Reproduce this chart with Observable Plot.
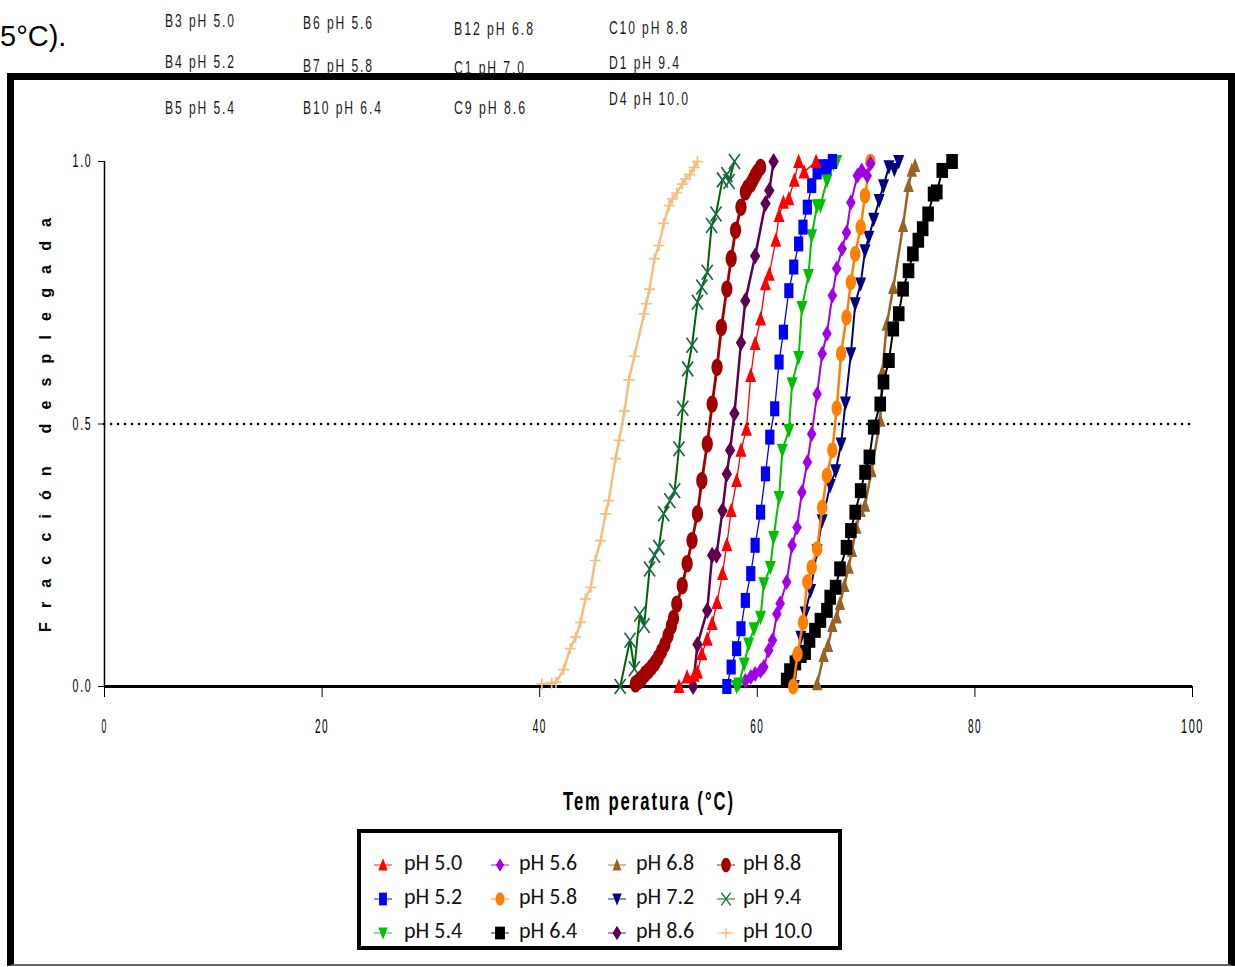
<!DOCTYPE html>
<html><head><meta charset="utf-8">
<script src="https://cdn.jsdelivr.net/npm/d3@7"></script>
<script src="https://cdn.jsdelivr.net/npm/@observablehq/plot@0.6"></script>
<style>
html,body{margin:0;padding:0;background:#fff;width:1235px;height:967px;overflow:hidden;}
body{position:relative;}
#chart{position:absolute;left:0;top:0;z-index:1;}
#over{position:absolute;left:0;top:0;z-index:2;}
#frame{position:absolute;left:7px;top:73px;width:1214px;height:884px;border-top:7px solid #000;border-left:7px solid #000;border-right:7px solid #000;border-bottom:2px solid #666;z-index:3;}
#legend{position:absolute;left:357px;top:829px;width:485px;height:121px;box-sizing:border-box;border:4px solid #000;background:#fff;z-index:4;}
.item{position:absolute;height:30px;display:flex;align-items:center;font-family:Carlito,Lato,"Liberation Sans",sans-serif;font-size:22px;color:#111;transform:translateY(-50%);}
</style></head>
<body>
<div id="chart"></div>
<svg id="over" width="1235" height="967"></svg>
<div id="frame"></div>
<div id="legend"></div>
<script>
// ---- data: [temperature °C, unfolded fraction] ----
const pH50 = [[52.8,0],[53.55,0.018],[54.2,0.021],[54.5,0.027],[54.9,0.062],[55.4,0.09],[55.85,0.12],[56.3,0.16],[56.8,0.215],[57.2,0.27],[57.6,0.335],[58.1,0.392],[58.5,0.45],[59.0,0.49],[59.4,0.592],[59.8,0.653],[60.3,0.7],[60.75,0.767],[61.1,0.785],[61.7,0.85],[62.0,0.897],[62.4,0.922],[62.9,0.929],[63.4,0.964],[63.8,1.0],[64.3,0.98],[65.4,1.0]];
const pH52 = [[57.2,0],[57.6,0.037],[58.1,0.072],[58.5,0.11],[58.9,0.164],[59.4,0.215],[59.8,0.269],[60.3,0.332],[60.75,0.405],[61.15,0.475],[61.6,0.529],[62.0,0.618],[62.4,0.675],[62.9,0.754],[63.35,0.799],[63.8,0.843],[64.2,0.875],[64.6,0.913],[65.0,0.954],[65.5,0.98],[65.95,0.99],[66.4,0.99],[66.9,1.0]];
const pH54 = [[58.1,0],[58.3,0.005],[58.8,0.043],[59.2,0.081],[59.7,0.11],[60.3,0.132],[60.6,0.196],[61.2,0.227],[61.5,0.284],[62.0,0.36],[62.3,0.45],[62.9,0.488],[63.2,0.577],[63.8,0.627],[64.1,0.722],[64.7,0.783],[65.0,0.859],[65.5,0.916],[65.8,0.916],[66.4,0.964],[67.0,0.996],[67.3,1.0]];
const pH56 = [[58.9,0.011],[59.4,0.018],[59.8,0.024],[60.3,0.03],[60.6,0.037],[61.05,0.069],[61.4,0.088],[61.8,0.138],[62.1,0.158],[62.7,0.199],[63.2,0.269],[63.65,0.303],[64.1,0.37],[64.6,0.427],[65.0,0.481],[65.5,0.557],[65.96,0.634],[66.4,0.672],[66.9,0.745],[67.3,0.796],[67.8,0.834],[68.2,0.865],[68.6,0.922],[69.2,0.973],[69.6,0.983],[70.1,0.973],[70.4,0.996]];
const pH58 = [[63.3,0],[63.7,0.062],[64.2,0.122],[64.6,0.199],[65.0,0.227],[65.5,0.262],[65.96,0.341],[66.4,0.402],[66.9,0.45],[67.3,0.53],[67.7,0.634],[68.2,0.703],[68.6,0.77],[69.0,0.824],[69.5,0.875],[69.9,0.935],[70.4,1.0]];
const pH64 = [[62.7,0.012],[63.0,0.03],[63.5,0.045],[64.0,0.059],[64.4,0.065],[64.8,0.088],[65.3,0.107],[65.8,0.126],[66.4,0.145],[66.7,0.17],[67.2,0.189],[67.6,0.224],[68.2,0.265],[68.6,0.297],[69.0,0.332],[69.5,0.373],[69.9,0.408],[70.3,0.437],[70.7,0.494],[71.3,0.538],[71.6,0.58],[72.1,0.621],[72.5,0.681],[73.0,0.71],[73.4,0.757],[73.9,0.792],[74.3,0.824],[74.8,0.85],[75.2,0.872],[75.7,0.9],[76.2,0.938],[76.5,0.942],[77.0,0.983],[77.9,1.0]];
const pH68 = [[65.5,0.005],[66.1,0.059],[66.5,0.078],[66.9,0.116],[67.3,0.132],[67.6,0.158],[68.0,0.192],[68.4,0.227],[68.7,0.259],[69.1,0.303],[69.5,0.335],[69.9,0.345],[70.5,0.411],[71.3,0.507],[71.5,0.6],[71.9,0.69],[72.5,0.76],[73.4,0.878],[73.9,0.954],[74.2,0.983],[74.5,0.992]];
const pH72 = [[63.4,0],[63.7,0.05],[64.0,0.094],[64.4,0.14],[64.9,0.183],[65.5,0.259],[65.96,0.316],[66.7,0.383],[67.2,0.411],[67.7,0.462],[68.1,0.54],[68.6,0.634],[69.0,0.729],[69.5,0.767],[69.9,0.83],[70.25,0.856],[70.7,0.89],[71.2,0.926],[71.6,0.954],[72.1,0.99],[72.6,0.985],[73.0,1.0]];
const pH86 = [[54.1,0],[54.5,0.08],[55.4,0.145],[55.85,0.25],[56.25,0.25],[56.8,0.335],[57.2,0.405],[57.5,0.45],[57.9,0.52],[58.5,0.655],[58.9,0.735],[59.8,0.82],[60.75,0.92],[61.1,0.945],[61.5,1.0]];
const pH88 = [[48.8,0.005],[49.1,0.01],[49.4,0.016],[49.7,0.024],[50.0,0.03],[50.3,0.037],[50.6,0.045],[50.9,0.055],[51.2,0.067],[51.5,0.08],[51.8,0.097],[52.1,0.115],[52.3,0.13],[52.6,0.157],[53.1,0.192],[53.55,0.234],[54.0,0.278],[54.5,0.329],[54.9,0.392],[55.4,0.462],[55.85,0.538],[56.3,0.608],[56.7,0.684],[57.2,0.757],[57.6,0.815],[58.0,0.869],[58.5,0.913],[58.9,0.942],[59.1,0.95],[59.4,0.957],[59.6,0.965],[59.8,0.973],[60.0,0.98],[60.3,0.989]];
const pH94 = [[47.4,0],[48.3,0.088],[48.7,0.034],[49.2,0.138],[49.6,0.116],[50.1,0.224],[50.55,0.25],[50.95,0.265],[51.4,0.329],[51.96,0.354],[52.4,0.373],[52.8,0.453],[53.15,0.53],[53.6,0.605],[54.0,0.65],[54.5,0.732],[54.9,0.761],[55.4,0.789],[55.8,0.878],[56.2,0.9],[56.8,0.965],[57.2,0.975],[57.4,0.962],[57.9,1.0]];
const pH100 = [[40.2,0.005],[41.1,0.006],[41.5,0.008],[42.2,0.032],[42.8,0.072],[43.3,0.094],[43.75,0.122],[44.2,0.167],[44.7,0.189],[45.1,0.24],[45.6,0.278],[46.05,0.329],[46.35,0.354],[46.97,0.434],[47.3,0.469],[47.8,0.525],[48.2,0.584],[48.7,0.629],[49.6,0.71],[49.8,0.729],[50.1,0.757],[50.55,0.815],[50.95,0.84],[51.4,0.882],[51.9,0.916],[52.2,0.929],[52.6,0.94],[53.1,0.957],[53.4,0.967],[53.8,0.975],[54.2,0.989],[54.5,1.0]];

const seriesLabels = ["pH 5.0","pH 5.2","pH 5.4","pH 5.6","pH 5.8","pH 6.4","pH 6.8","pH 7.2","pH 8.6","pH 8.8","pH 9.4","pH 10.0"];
const seriesData = [pH50,pH52,pH54,pH56,pH58,pH64,pH68,pH72,pH86,pH88,pH94,pH100];
const xTicks = [0,20,40,60,80,100];
const yTicks = [0,0.5,1];
const sampleLabels = [["B3 pH 5.0","B4 pH 5.2","B5 pH 5.4"],["B6 pH 5.6","B7 pH 5.8","B10 pH 6.4"],["B12 pH 6.8","C1 pH 7.0","C9 pH 8.6"],["C10 pH 8.8","D1 pH 9.4","D4 pH 10.0"]];
const xTitle = "Tem peratura (°C)";
const yTitle = "Fracción desplegada";
const fragment = "5°C).";

// ---- symbols ----
const tri = (w,h,down) => ({draw(c){const s=down?-1:1;c.moveTo(0,-h*s);c.lineTo(w,h*0.8*s);c.lineTo(-w,h*0.8*s);c.closePath();}});
const rect = (w,h) => ({draw(c){c.rect(-w,-h,2*w,2*h);}});
const diam = (w,h) => ({draw(c){c.moveTo(0,-h);c.lineTo(w,0);c.lineTo(0,h);c.lineTo(-w,0);c.closePath();}});
const ell = (rx,ry) => ({draw(c){const k=0.5523;c.moveTo(rx,0);c.bezierCurveTo(rx,ry*k,rx*k,ry,0,ry);c.bezierCurveTo(-rx*k,ry,-rx,ry*k,-rx,0);c.bezierCurveTo(-rx,-ry*k,-rx*k,-ry,0,-ry);c.bezierCurveTo(rx*k,-ry,rx,-ry*k,rx,0);c.closePath();}});
const xs = (w,h) => ({draw(c){c.moveTo(-w,-h);c.lineTo(w,h);c.moveTo(w,-h);c.lineTo(-w,h);}});
const pl = (w,h) => ({draw(c){c.moveTo(-w,0);c.lineTo(w,0);c.moveTo(0,-h);c.lineTo(0,h);}});

const styles = [
  {color:"#FF0000", lw:1.3, sym:tri(5.5,8,false), filled:true},
  {color:"#0000FF", lw:1.3, sym:rect(4.6,7.5), filled:true},
  {color:"#00C000", lw:2, sym:tri(5.5,8,true), filled:true},
  {color:"#A000E6", lw:2, sym:diam(4.8,8), filled:true},
  {color:"#FF8000", lw:2.5, sym:ell(5.2,7.8), filled:true},
  {color:"#000000", lw:2, sym:rect(5.8,7.5), filled:true},
  {color:"#996326", lw:2.5, sym:tri(5.2,8,false), filled:true},
  {color:"#000080", lw:2, sym:tri(5.5,8,true), filled:true},
  {color:"#5E0050", lw:2.5, sym:diam(5.2,8.5), filled:true},
  {color:"#A00000", lw:2.8, sym:ell(5.6,8.6), filled:true},
  {color:"#1B6B48", line:"#006400", lw:2, sym:xs(5.5,7.5), filled:false},
  {color:"#F4BE80", lw:2.5, sym:pl(5.5,5.5), filled:false}
];

const marks = [
  Plot.ruleY([0.5], {stroke:"#000", strokeWidth:2.5, strokeDasharray:"0.1,6.9", strokeLinecap:"round"}),
  Plot.ruleX([0], {stroke:"#000", strokeWidth:1.5}),
  Plot.ruleY([0], {stroke:"#000", strokeWidth:3})
];
const drawOrder = [11,10,9,8,7,6,5,4,3,2,1,0];
for (const i of drawOrder) {
  const st = styles[i], d = seriesData[i];
  marks.push(Plot.line(d, {x:p=>p[0], y:p=>p[1], stroke: st.line || st.color, strokeWidth: st.lw}));
  marks.push(Plot.dot(d, {x:p=>p[0], y:p=>p[1], r:5, symbol: st.sym,
    fill: st.filled ? st.color : "none", stroke: st.filled ? "none" : st.color, strokeWidth: st.filled ? 0 : 1.7}));
}

const plot = Plot.plot({
  width:1235, height:967,
  marginLeft:104, marginRight:43, marginTop:161, marginBottom:281,
  style:{background:"transparent", fontFamily:"'Liberation Sans', Arial, sans-serif", fontSize:"18px", color:"#000"},
  x:{domain:[0,100], ticks:xTicks, tickSize:11, tickPadding:21, label:null},
  y:{domain:[0,1], ticks:yTicks, tickFormat:d=>d.toFixed(1), tickSize:6, tickPadding:6, label:null},
  marks
});
document.getElementById("chart").appendChild(plot);

// condensed, letter-spaced tick labels
const xLen = {1:6, 2:14, 3:23};
plot.querySelectorAll("text").forEach(t => {
  const s = t.textContent.trim();
  if (/^\d+$/.test(s)) {
    t.style.fontSize = "21px"; t.setAttribute("letter-spacing", 3);
    t.setAttribute("textLength", xLen[s.length]); t.setAttribute("lengthAdjust","spacingAndGlyphs");
  } else if (/^\d\.\d$/.test(s)) {
    t.style.fontSize = "18px"; t.setAttribute("letter-spacing", 3);
    t.setAttribute("textLength", 20); t.setAttribute("lengthAdjust","spacingAndGlyphs");
  }
});

// ---- overlay texts ----
const over = d3.select("#over");
const colX = [165,303,454,609];
const base = [[27,68,114],[29,72,114],[35,74,114],[34,69,105]];
const lens = [[71,71,71],[71,71,80],[81,72,73],[80,72,81]];
sampleLabels.forEach((col,ci) => col.forEach((s,ri) => {
  over.append("text").attr("x",colX[ci]).attr("y",base[ci][ri]).text(s)
    .attr("font-family","'Liberation Sans',Arial").attr("font-size",19).attr("fill","#1a1a1a")
    .attr("letter-spacing",3)
    .attr("textLength",lens[ci][ri]).attr("lengthAdjust","spacingAndGlyphs");
}));
over.append("text").attr("x",0).attr("y",46).text(fragment)
  .attr("font-family","'Liberation Sans',Arial").attr("font-size",29).attr("fill","#000");
over.append("text").attr("x",649).attr("y",810).attr("text-anchor","middle").text(xTitle)
  .attr("font-family","'Liberation Sans',Arial").attr("font-weight","bold").attr("font-size",25)
  .attr("letter-spacing",3)
  .attr("textLength",172).attr("lengthAdjust","spacingAndGlyphs");
over.append("text").attr("transform","translate(51,425) rotate(-90)").attr("text-anchor","middle").text(yTitle)
  .attr("font-family","'Liberation Sans',Arial").attr("font-weight","bold").attr("font-size",16)
  .attr("textLength",414).attr("lengthAdjust","spacing");

// ---- legend ----
const leg = d3.select("#legend");
const mx = [22,139,256,365], tx = [43,158,275,382], ry = [29,63,97];
seriesLabels.forEach((lab,i) => {
  const c = Math.floor(i/3), r = i%3, st = styles[i];
  const sv = leg.append("svg").attr("width",24).attr("height",24)
    .style("position","absolute").style("left",(mx[c]-12)+"px").style("top",(ry[r]-12+3)+"px");
  sv.append("line").attr("x1",3).attr("x2",21).attr("y1",12).attr("y2",12)
    .attr("stroke",st.line||st.color).attr("stroke-opacity",0.45).attr("stroke-width",2);
  const p = d3.path(); st.sym.draw(p);
  sv.append("path").attr("transform","translate(12,12) scale(0.85)").attr("d",p.toString())
    .attr("fill",st.filled?st.color:"none").attr("stroke",st.filled?"none":st.color).attr("stroke-width",1.6);
  leg.append("div").attr("class","item").style("left",tx[c]+"px").style("top",ry[r]+"px").text(lab);
});
</script>
</body></html>
